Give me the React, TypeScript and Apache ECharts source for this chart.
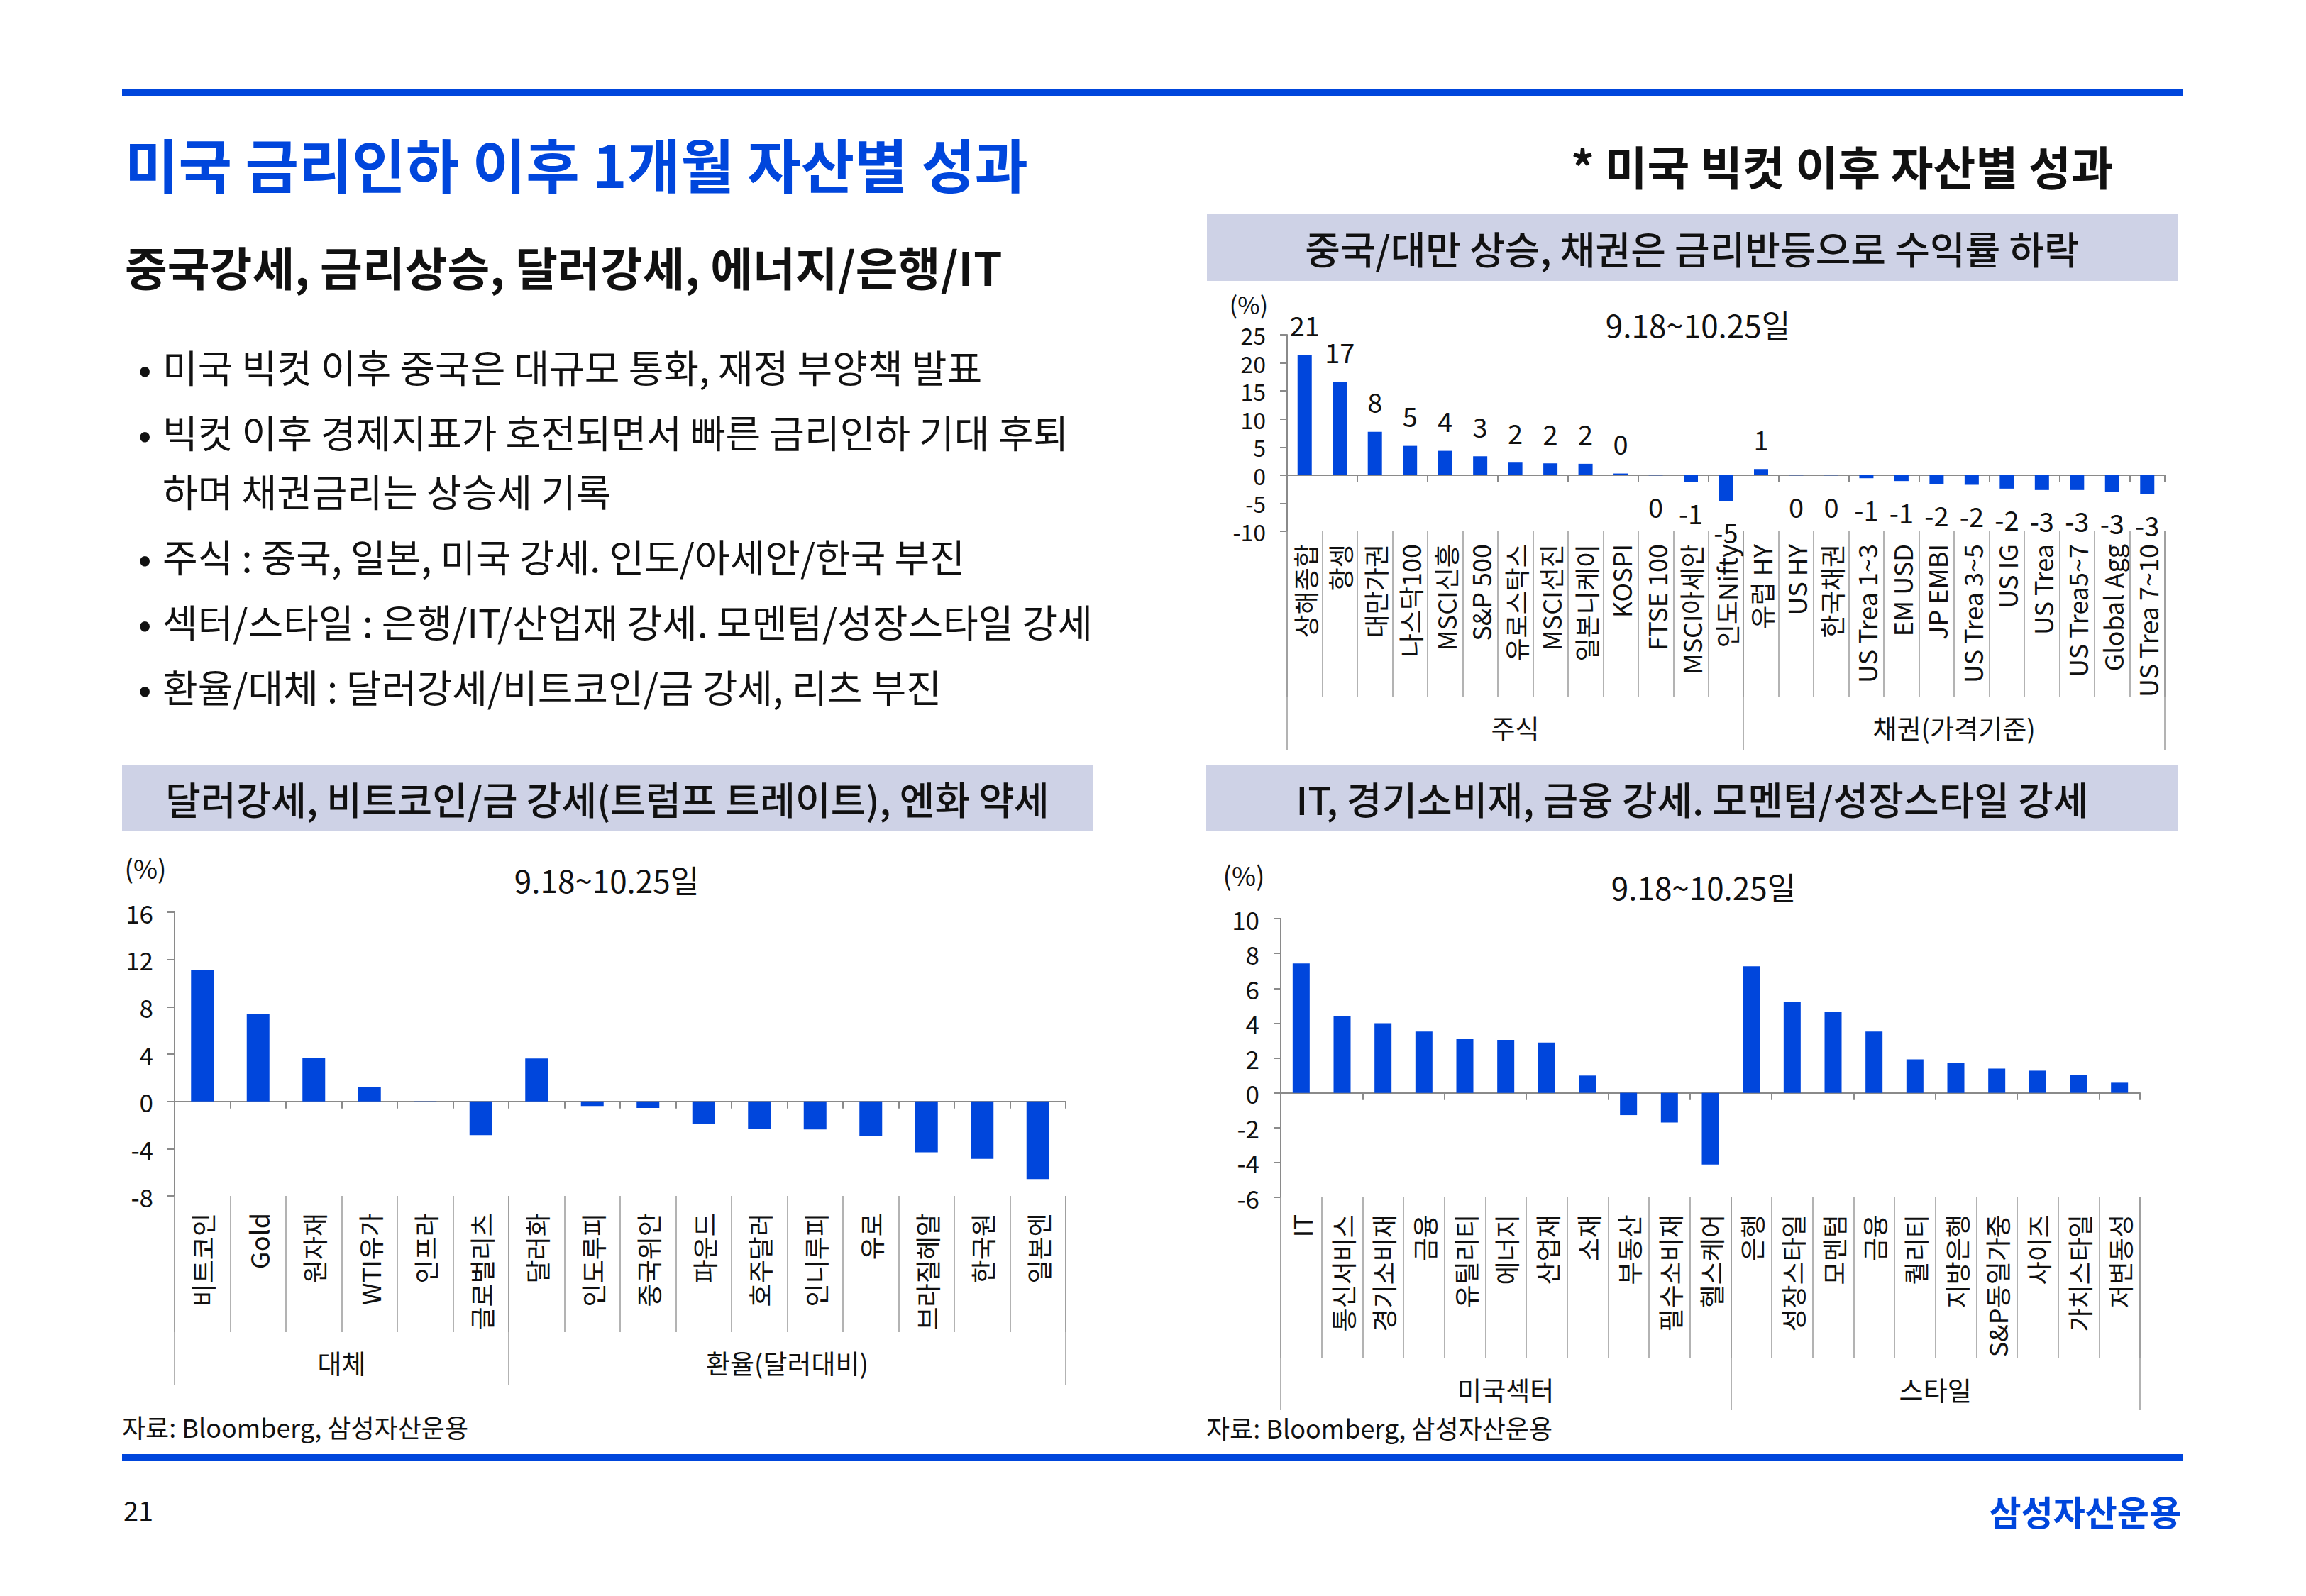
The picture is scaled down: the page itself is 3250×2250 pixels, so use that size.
import React, { useEffect, useRef } from 'react';
import * as echarts from 'echarts';

const FONT = '"Noto Sans CJK KR", "Noto Sans", sans-serif';
const BLUE = '#0046DC';
const AXIS = '#8A8A8A';
const SEP = '#9A9A9A';
const BOX = '#CED2E6';

// ---- Top-right: 미국 빅컷 이후 자산별 성과 ----
const trCategories = ['상해종합', '항셍', '대만가권', '나스닥100', 'MSCI신흥', 'S&P 500', '유로스탁스', 'MSCI선진', '일본니케이', 'KOSPI', 'FTSE 100', 'MSCI아세안', '인도Nifty', '유럽 HY', 'US HY', '한국채권', 'US Trea 1~3', 'EM USD', 'JP EMBI', 'US Trea 3~5', 'US IG', 'US Trea', 'US Trea5~7', 'Global Agg', 'US Trea 7~10'];
const trValues = [21.44, 16.65, 7.73, 5.21, 4.33, 3.36, 2.23, 2.1, 2.02, 0.29, -0.05, -1.26, -4.67, 1.09, -0.05, -0.05, -0.55, -1.05, -1.55, -1.72, -2.4, -2.65, -2.65, -2.94, -3.36];
const trGroups = ['주식', '채권(가격기준)'];
const trGroupSizes = [13, 12];
const trAxis = { min: -10, max: 25, interval: 5 };

// ---- Bottom-left: 대체 / 환율 ----
const blCategories = ['비트코인', 'Gold', '원자재', 'WTI유가', '인프라', '글로벌리츠', '달러화', '인도루피', '중국위안', '파운드', '호주달러', '인니루피', '유로', '브라질헤알', '한국원', '일본엔'];
const blValues = [11.1, 7.4, 3.7, 1.24, -0.05, -2.85, 3.63, -0.39, -0.56, -1.89, -2.32, -2.38, -2.92, -4.31, -4.87, -6.57];
const blGroups = ['대체', '환율(달러대비)'];
const blGroupSizes = [6, 10];
const blAxis = { min: -8, max: 16, interval: 4 };

// ---- Bottom-right: 미국섹터 / 스타일 ----
const brCategories = ['IT', '통신서비스', '경기소비재', '금융', '유틸리티', '에너지', '산업재', '소재', '부동산', '필수소비재', '헬스케어', '은행', '성장스타일', '모멘텀', '금융', '퀄리티', '지방은행', 'S&P동일가중', '사이즈', '가치스타일', '저변동성'];
const brValues = [7.42, 4.4, 4.0, 3.52, 3.08, 3.04, 2.89, 0.99, -1.28, -1.7, -4.12, 7.26, 5.22, 4.67, 3.52, 1.92, 1.71, 1.39, 1.27, 1.01, 0.58];
const brGroups = ['미국섹터', '스타일'];
const brGroupSizes = [11, 10];
const brAxis = { min: -6, max: 10, interval: 2 };

const bulletLines = [
  { bullet: true, text: '미국 빅컷 이후 중국은 대규모 통화, 재정 부양책 발표' },
  { bullet: true, text: '빅컷 이후 경제지표가 호전되면서 빠른 금리인하 기대 후퇴' },
  { bullet: false, text: '하며 채권금리는 상승세 기록' },
  { bullet: true, text: '주식 : 중국, 일본, 미국 강세. 인도/아세안/한국 부진' },
  { bullet: true, text: '섹터/스타일 : 은행/IT/산업재 강세. 모멘텀/성장스타일 강세' },
  { bullet: true, text: '환율/대체 : 달러강세/비트코인/금 강세, 리츠 부진' },
];

type Panel = {
  categories: string[];
  values: number[];
  groups: string[];
  groupSizes: number[];
  axis: { min: number; max: number; interval: number };
  left: number; right: number; top: number; bottom: number;
  barWidth: number;
  sepLen: number; groupLen: number; labelMargin: number; groupMargin: number;
  dataLabels: boolean;
  tickFont: number;
};

const panels: Panel[] = [
  {
    categories: trCategories, values: trValues, groups: trGroups, groupSizes: trGroupSizes, axis: trAxis,
    left: 1814, right: 3051, top: 472, bottom: 749, barWidth: 20,
    sepLen: 234, groupLen: 309, labelMargin: 18, groupMargin: 258, dataLabels: true, tickFont: 32,
  },
  {
    categories: blCategories, values: blValues, groups: blGroups, groupSizes: blGroupSizes, axis: blAxis,
    left: 246, right: 1502, top: 1286, bottom: 1686, barWidth: 32,
    sepLen: 192, groupLen: 267, labelMargin: 24, groupMargin: 216, dataLabels: false, tickFont: 35,
  },
  {
    categories: brCategories, values: brValues, groups: brGroups, groupSizes: brGroupSizes, axis: brAxis,
    left: 1805, right: 3016, top: 1295, bottom: 1688, barWidth: 24,
    sepLen: 226, groupLen: 300, labelMargin: 24, groupMargin: 252, dataLabels: false, tickFont: 35,
  },
];

function roundLabel(v: number): string {
  const r = Math.round(v);
  return r === 0 ? '0' : String(r);
}

function buildOption() {
  const grid: any[] = [];
  const xAxis: any[] = [];
  const yAxis: any[] = [];
  const series: any[] = [];

  panels.forEach((p, gi) => {
    const N = p.categories.length;
    const split = p.groupSizes[0];
    grid.push({ left: p.left, top: p.top, width: p.right - p.left, height: p.bottom - p.top, containLabel: false });
    xAxis.push({
      gridIndex: gi, type: 'category', data: p.categories, position: 'bottom',
      axisLine: { show: true, onZero: true, lineStyle: { color: AXIS, width: 2 } },
      axisTick: { show: true, length: 10, lineStyle: { color: AXIS, width: 2 } },
      axisLabel: { show: false }, splitLine: { show: false },
    });
    xAxis.push({
      gridIndex: gi, type: 'category', data: p.categories, position: 'bottom',
      axisLine: { show: false, onZero: false },
      axisTick: { show: true, length: p.sepLen, lineStyle: { color: SEP, width: 1.5 } },
      axisLabel: { show: true, interval: 0, rotate: 90, margin: p.labelMargin, fontSize: 36, color: '#111', fontFamily: FONT },
      splitLine: { show: false },
    });
    xAxis.push({
      gridIndex: gi, type: 'value', min: 0, max: N, position: 'bottom',
      axisLine: { show: false, onZero: false },
      axisTick: { show: true, customValues: [0, split, N], length: p.groupLen, lineStyle: { color: SEP, width: 1.5 } },
      axisLabel: {
        show: true, customValues: [split / 2, (split + N) / 2],
        formatter: (v: number) => (v < split ? p.groups[0] : p.groups[1]),
        margin: p.groupMargin, fontSize: 37, color: '#111', fontFamily: FONT,
      },
      splitLine: { show: false },
    });
    yAxis.push({
      gridIndex: gi, type: 'value', min: p.axis.min, max: p.axis.max, interval: p.axis.interval,
      axisLine: { show: true, lineStyle: { color: AXIS, width: 2 } },
      axisTick: { show: true, length: 10, lineStyle: { color: AXIS, width: 2 } },
      axisLabel: { fontSize: p.tickFont, color: '#111', margin: 30, fontFamily: FONT },
      splitLine: { show: false },
    });
    series.push({
      type: 'bar', xAxisIndex: gi * 3, yAxisIndex: gi, barWidth: p.barWidth,
      itemStyle: { color: BLUE },
      data: p.values.map((v) => ({ value: v, label: { position: v >= 0 ? 'top' : 'bottom' } })),
      label: {
        show: p.dataLabels, distance: 24, fontSize: 38, color: '#111', fontFamily: FONT,
        formatter: (prm: any) => roundLabel(prm.value),
      },
    });
  });

  const txt = (text: string, x: number, y: number, size: number, opts: any = {}) => ({
    type: 'text', x, y, silent: true,
    style: {
      text, fontSize: size, fontFamily: FONT, fontWeight: opts.bold ? 'bold' : (opts.weight || 'normal'),
      fill: opts.color || '#111', align: opts.align || 'left', verticalAlign: 'middle',
    },
  });

  const graphic: any[] = [
    { type: 'rect', shape: { x: 172, y: 126, width: 2904, height: 9 }, style: { fill: BLUE } },
    { type: 'rect', shape: { x: 172, y: 2050, width: 2904, height: 9 }, style: { fill: BLUE } },
    txt('미국 금리인하 이후 1개월 자산별 성과', 176, 229, 82, { bold: true, color: BLUE }),
    txt('* 미국 빅컷 이후 자산별 성과', 2214, 233, 65, { bold: true }),
    txt('중국강세, 금리상승, 달러강세, 에너지/은행/IT', 176, 375, 65, { bold: true }),
    { type: 'rect', shape: { x: 1701, y: 301, width: 1369, height: 95 }, style: { fill: BOX } },
    txt('중국/대만 상승, 채권은 금리반등으로 수익률 하락', 2385, 349, 54, { align: 'center', weight: 500 }),
    { type: 'rect', shape: { x: 172, y: 1078, width: 1368, height: 93 }, style: { fill: BOX } },
    txt('달러강세, 비트코인/금 강세(트럼프 트레이트), 엔화 약세', 856, 1125, 54, { align: 'center', weight: 500 }),
    { type: 'rect', shape: { x: 1700, y: 1078, width: 1370, height: 93 }, style: { fill: BOX } },
    txt('IT, 경기소비재, 금융 강세. 모멘텀/성장스타일 강세', 2385, 1125, 54, { align: 'center', weight: 500 }),
    txt('(%)', 1760, 428, 34, { align: 'center' }),
    txt('9.18~10.25일', 2393, 457, 44, { align: 'center' }),
    txt('(%)', 205, 1223, 37, { align: 'center' }),
    txt('9.18~10.25일', 855, 1240, 44, { align: 'center' }),
    txt('(%)', 1753, 1233, 37, { align: 'center' }),
    txt('9.18~10.25일', 2401, 1250, 44, { align: 'center' }),
    txt('자료: Bloomberg, 삼성자산운용', 172, 2011, 36),
    txt('자료: Bloomberg, 삼성자산운용', 1700, 2012, 36),
    txt('21', 174, 2127, 38),
    txt('삼성자산운용', 3074, 2129, 49, { bold: true, color: BLUE, align: 'right' }),
  ];
  const lineY = [516, 608, 691, 783, 875, 967];
  bulletLines.forEach((l, i) => {
    if (l.bullet) graphic.push(txt('•', 195, lineY[i], 54));
    graphic.push(txt(l.text, 229, lineY[i], 54));
  });

  return {
    animation: false,
    backgroundColor: '#ffffff',
    textStyle: { fontFamily: FONT },
    grid, xAxis, yAxis, series, graphic,
  };
}

export default function App() {
  const ref = useRef<HTMLDivElement>(null);
  useEffect(() => {
    if (!ref.current) return;
    const chart = echarts.init(ref.current, undefined, { renderer: 'svg' });
    chart.setOption(buildOption() as any);
    return () => chart.dispose();
  }, []);
  return (
    <div
      ref={ref}
      style={{ position: 'absolute', left: 0, top: 0, width: 3250, height: 2250, background: '#fff' }}
    />
  );
}
